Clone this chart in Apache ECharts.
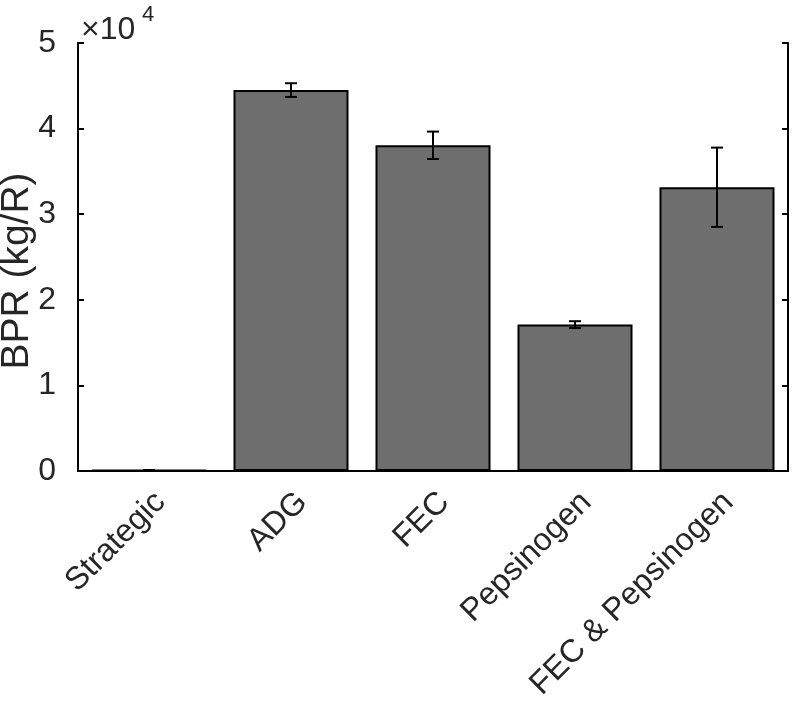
<!DOCTYPE html>
<html>
<head>
<meta charset="utf-8">
<script src="https://cdn.jsdelivr.net/npm/echarts@6/dist/echarts.min.js"></script>
<style>html,body{margin:0;padding:0;background:#fff}#c{width:792px;height:703px}</style>
</head>
<body>
<div id="c"></div>
<script>
const categories = ['Strategic', 'ADG', 'FEC', 'Pepsinogen', 'FEC & Pepsinogen'];
const values = [100, 44500, 38050, 17100, 33150];
const errors = [0, 800, 1600, 400, 4630];
const yTicks = [0, 10000, 20000, 30000, 40000, 50000];
const scaleExp = 4;

const FONT = 'Liberation Sans';
const errData = categories.map((c, i) => [i, values[i] - errors[i], values[i] + errors[i]]);

const chart = echarts.init(document.getElementById('c'));
chart.setOption({
  animation: false,
  backgroundColor: '#ffffff',
  grid: { left: 78, right: 4, top: 43, bottom: 232, containLabel: false, outerBoundsMode: 'none' },
  xAxis: [{
    type: 'category', data: categories, position: 'bottom',
    axisLine: { lineStyle: { color: '#000', width: 2 } },
    axisTick: { inside: true, alignWithLabel: true, length: 6, lineStyle: { color: '#000', width: 2 } },
    axisLabel: { rotate: 45, interval: 0, margin: 15, verticalAlign: 'top', color: '#262626', fontFamily: FONT, fontSize: 32 }
  }, {
    type: 'category', data: categories, position: 'top',
    axisLine: { lineStyle: { color: '#000', width: 2 } },
    axisTick: { inside: true, alignWithLabel: true, length: 6, lineStyle: { color: '#000', width: 2 } },
    axisLabel: { show: false }
  }],
  yAxis: [{
    type: 'value', min: yTicks[0], max: yTicks[yTicks.length - 1], interval: 10000, position: 'left',
    name: 'BPR (kg/R)', nameLocation: 'middle', nameGap: 41, nameMoveOverlap: false,
    nameTextStyle: { color: '#262626', fontFamily: FONT, fontSize: 39, padding: [0, 28, 0, 0] },
    axisLine: { show: true, lineStyle: { color: '#000', width: 2 } },
    axisTick: { show: true, inside: true, length: 6, lineStyle: { color: '#000', width: 2 } },
    axisLabel: { color: '#262626', fontFamily: FONT, fontSize: 32, margin: 22,
      formatter: v => String(v / Math.pow(10, scaleExp)) },
    splitLine: { show: false }
  }, {
    type: 'value', min: yTicks[0], max: yTicks[yTicks.length - 1], interval: 10000, position: 'right',
    axisLine: { show: true, lineStyle: { color: '#000', width: 2 } },
    axisTick: { show: true, inside: true, length: 6, lineStyle: { color: '#000', width: 2 } },
    axisLabel: { show: false }, splitLine: { show: false }
  }],
  graphic: [{
    type: 'text', left: 81, top: 14,
    style: { text: '×10', fontFamily: FONT, fontSize: 32, fill: '#262626' }
  }, {
    type: 'text', left: 142, top: 4,
    style: { text: String(scaleExp), fontFamily: FONT, fontSize: 22, fill: '#262626' }
  }],
  series: [{
    type: 'bar', data: values, barWidth: '81%',
    itemStyle: { color: '#6e6e6e', borderColor: '#000', borderWidth: 2 }
  }, {
    type: 'custom', data: errData, z: 10,
    renderItem: function (params, api) {
      const x = api.value(0);
      const lo = api.coord([x, api.value(1)]);
      const hi = api.coord([x, api.value(2)]);
      const cap = 6;
      const st = { stroke: '#000', lineWidth: 2 };
      return { type: 'group', children: [
        { type: 'line', shape: { x1: lo[0], y1: lo[1], x2: hi[0], y2: hi[1] }, style: st },
        { type: 'line', shape: { x1: lo[0] - cap, y1: lo[1], x2: lo[0] + cap, y2: lo[1] }, style: st },
        { type: 'line', shape: { x1: hi[0] - cap, y1: hi[1], x2: hi[0] + cap, y2: hi[1] }, style: st }
      ]};
    }
  }]
});
</script>
</body>
</html>
